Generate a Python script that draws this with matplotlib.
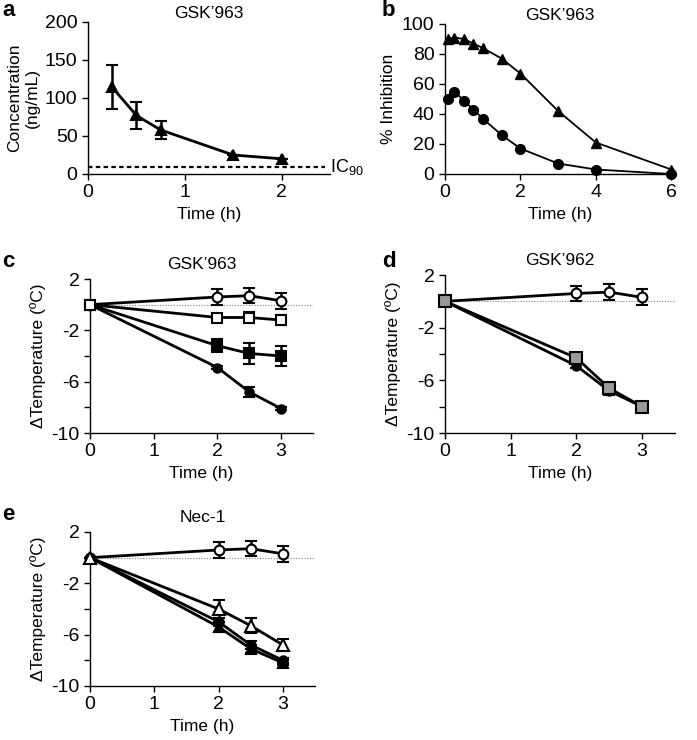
import numpy as np
import matplotlib
matplotlib.use('Agg')
import matplotlib.pyplot as plt

plt.rcParams['font.family'] = ['Liberation Sans', 'DejaVu Sans']
plt.rcParams['mathtext.fontset'] = 'custom'
plt.rcParams['mathtext.rm'] = 'Liberation Sans'
plt.rcParams['font.size'] = 10.5

# panel a: plasma concentration
t_a = [0.25, 0.5, 0.75, 1.5, 2.0]
conc_a = [114, 77, 58, 25, 20]
err_a = [29, 18, 12, 0, 0]
ic90 = 9

# panel b: % inhibition
t_b = [0.083, 0.25, 0.5, 0.75, 1.0, 1.5, 2.0, 3.0, 4.0, 6.0]
inh_tri = [90, 91, 90, 87, 84, 77, 67, 42, 21, 3]
inh_circ = [50, 55, 49, 43, 37, 26, 17, 7, 3, 0]

# panels c-e: temperature change
t_temp = [0, 2, 2.5, 3]
veh = [0, 0.6, 0.7, 0.3]
veh_err = [0, 0.6, 0.6, 0.6]

c_open_sq = [0, -1.0, -1.0, -1.2]
c_open_sq_err = [0, 0.3, 0.4, 0.4]
c_fill_sq = [0, -3.2, -3.8, -4.0]
c_fill_sq_err = [0, 0.5, 0.8, 0.8]
c_fill_circ = [0, -4.9, -6.8, -8.1]
c_fill_circ_err = [0, 0.1, 0.4, 0.1]

d_fill_circ = [0, -4.9, -6.8, -8.0]
d_fill_circ_err = [0, 0.2, 0.3, 0.2]
d_grey_sq = [0, -4.3, -6.6, -8.0]
d_grey_sq_err = [0, 0.3, 0.4, 0.3]

e_open_tri = [0, -4.0, -5.3, -6.8]
e_open_tri_err = [0, 0.7, 0.6, 0.5]
e_fill_circ = [0, -5.0, -6.8, -8.0]
e_fill_circ_err = [0, 0.3, 0.3, 0.2]
e_fill_tri = [0, -5.4, -7.1, -8.2]
e_fill_tri_err = [0, 0.4, 0.3, 0.2]

W, H = 697, 740
fig = plt.figure(figsize=(W / 100, H / 100), dpi=100)


def make_ax(l, r, t, b):
    ax = fig.add_axes([l / W, 1 - b / H, (r - l) / W, (b - t) / H])
    ax.spines['top'].set_visible(False)
    ax.spines['right'].set_visible(False)
    ax.spines['left'].set_linewidth(1.0)
    ax.spines['bottom'].set_linewidth(1.0)
    ax.tick_params(direction='out', length=4, width=1.0, labelsize=14)
    return ax


def letter(x, y, s):
    fig.text(x / W, 1 - y / H, s, fontsize=16, fontweight='bold',
             va='center', ha='left')


def series(ax, x, y, e, marker, face, ms=8):
    ax.errorbar(x, y, yerr=e, color='black', lw=2.0, marker=marker, ms=ms,
                mfc=face, mec='black', mew=1.5, capsize=4, capthick=1.8,
                elinewidth=1.8, zorder=3, clip_on=False)


def temp_axes(ax, title):
    ax.set_xlim(0, 3.5)
    ax.set_ylim(-10, 2)
    ax.set_xticks([0, 1, 2, 3])
    ax.set_yticks([2, 0, -2, -4, -6, -8, -10])
    ax.set_yticklabels(['2', '', '-2', '', '-6', '', '-10'])
    ax.axhline(0, color='grey', lw=0.8, ls=(0, (1, 1.5)), zorder=1)
    ax.set_ylabel('\u0394Temperature (\u00baC)', fontsize=12.5)
    ax.set_xlabel('Time (h)', fontsize=12.5)
    ax.set_title(title, fontsize=12.5, pad=7)


# a
ax = make_ax(88, 330, 22, 174)
ax.plot([0, 2.45], [ic90, ic90], color='black', lw=1.6, ls=(0, (2, 1.5)))
ax.text(1.0, ic90 / 200, 'IC$_{90}$', transform=ax.transAxes, fontsize=13,
        va='center')
series(ax, t_a, conc_a, err_a, '^', 'black', ms=7.5)
ax.set_xlim(0, 2.5)
ax.set_ylim(0, 200)
ax.set_xticks([0, 1, 2])
ax.set_yticks([0, 50, 100, 150, 200])
ax.set_ylabel('Concentration\n(ng/mL)', fontsize=12.5)
ax.set_xlabel('Time (h)', fontsize=12.5)
ax.set_title("GSK\u2019963", fontsize=12.5, pad=3)
letter(2, 11, 'a')

# b
ax = make_ax(445, 675, 24, 174)
ax.plot(t_b, inh_tri, color='black', lw=1.3, marker='^', ms=7, zorder=3,
        clip_on=False)
ax.plot(t_b, inh_circ, color='black', lw=1.3, marker='o', ms=7, zorder=3,
        clip_on=False)
ax.set_xlim(0, 6.1)
ax.set_ylim(0, 100)
ax.set_xticks([0, 2, 4, 6])
ax.set_yticks([0, 20, 40, 60, 80, 100])
ax.set_ylabel('% Inhibition', fontsize=12.5)
ax.set_xlabel('Time (h)', fontsize=12.5)
ax.set_title("GSK\u2019963", fontsize=12.5, pad=3)
letter(382, 11, 'b')

# c
ax = make_ax(90, 313, 279, 433)
series(ax, t_temp, veh, veh_err, 'o', 'white', ms=7)
series(ax, t_temp, c_fill_circ, c_fill_circ_err, 'o', 'black', ms=6)
series(ax, t_temp, c_fill_sq, c_fill_sq_err, 's', 'black', ms=7)
series(ax, t_temp, c_open_sq, c_open_sq_err, 's', 'white', ms=7.5)
temp_axes(ax, "GSK\u2019963")
letter(2, 262, 'c')

# d
ax = make_ax(445, 675, 275, 433)
series(ax, t_temp, veh, veh_err, 'o', 'white', ms=7)
series(ax, t_temp, d_fill_circ, d_fill_circ_err, 'o', 'black', ms=6)
series(ax, t_temp, d_grey_sq, d_grey_sq_err, 's', '#999999', ms=8)
temp_axes(ax, "GSK\u2019962")
letter(382, 262, 'd')

# e
ax = make_ax(90, 315, 532, 686)
series(ax, t_temp, veh, veh_err, 'o', 'white', ms=7)
series(ax, t_temp, e_fill_tri, e_fill_tri_err, '^', 'black', ms=7)
series(ax, t_temp, e_fill_circ, e_fill_circ_err, 'o', 'black', ms=6)
series(ax, t_temp, e_open_tri, e_open_tri_err, '^', 'white', ms=8)
temp_axes(ax, 'Nec-1')
letter(2, 515, 'e')

fig.savefig('out.png', dpi=100)
